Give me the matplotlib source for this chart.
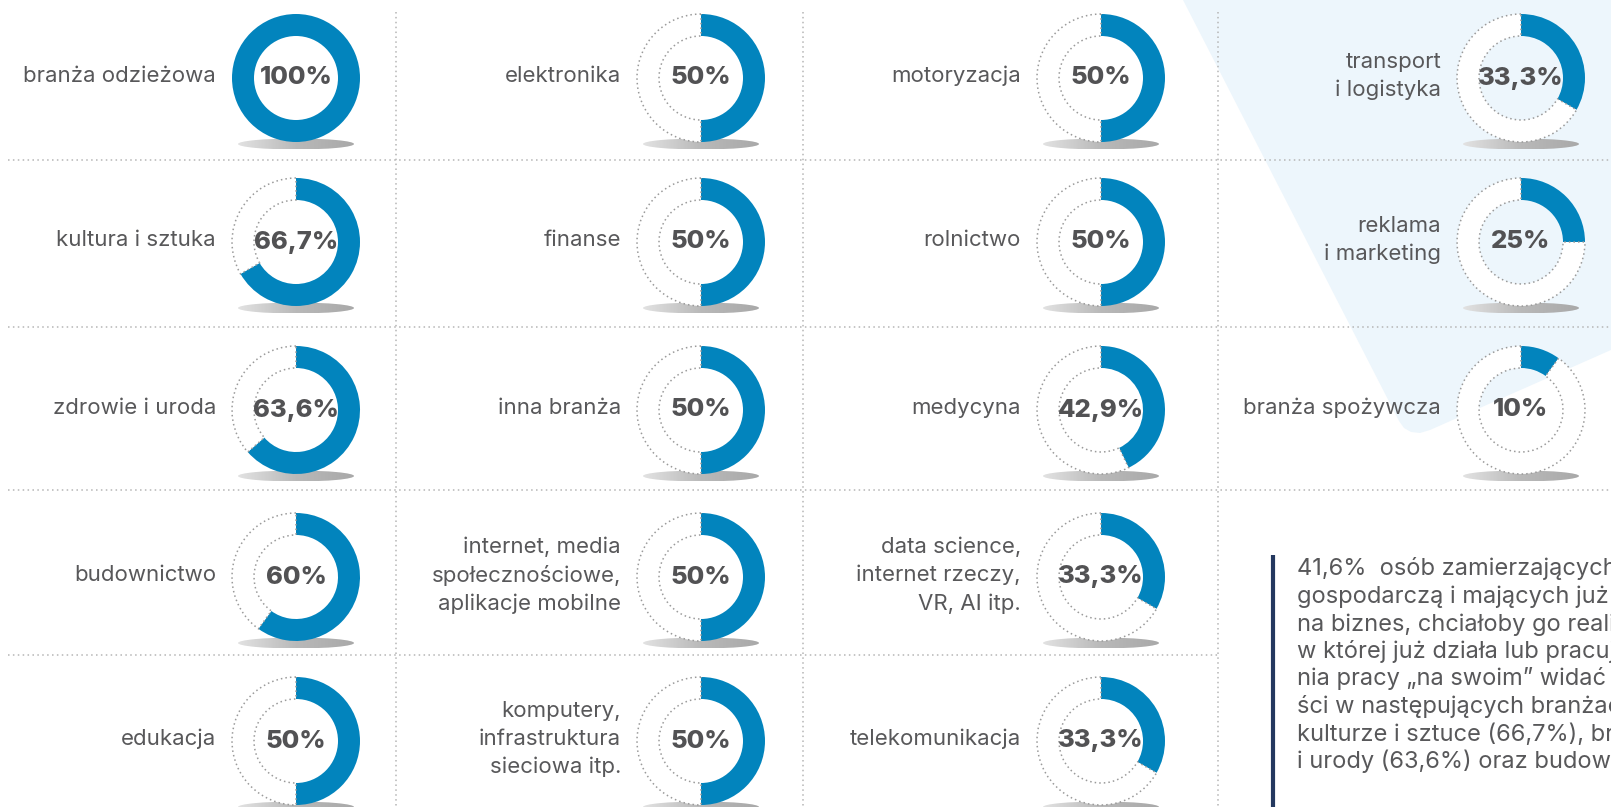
import numpy as np
import matplotlib
matplotlib.use("Agg")
import matplotlib.pyplot as plt
from matplotlib.patches import Ellipse, Polygon

# ---------------- data ----------------
col1_labels = ["branża odzieżowa", "kultura i sztuka", "zdrowie i uroda", "budownictwo", "edukacja"]
col1_values = [100, 66.7, 63.6, 60, 50]
col2_labels = ["elektronika", "finanse", "inna branża",
               "internet, media\nspołecznościowe,\naplikacje mobilne",
               "komputery,\ninfrastruktura\nsieciowa itp."]
col2_values = [50, 50, 50, 50, 50]
col3_labels = ["motoryzacja", "rolnictwo", "medycyna",
               "data science,\ninternet rzeczy,\nVR, AI itp.", "telekomunikacja"]
col3_values = [50, 50, 42.9, 33.3, 33.3]
col4_labels = ["transport\ni logistyka", "reklama\ni marketing", "branża spożywcza"]
col4_values = [33.3, 25, 10]

note_lines = [
    "41,6%  osób zamierzających",
    "gospodarczą i mających już",
    "na biznes, chciałoby go realizować",
    "w której już działa lub pracuje.",
    "nia pracy „na swoim” widać",
    "ści w następujących branżach:",
    "kulturze i sztuce (66,7%), branży",
    "i urody (63,6%) oraz budownictwie",
]

# ---------------- style / layout ----------------
W, H = 1611, 807
BLUE = "#0284bd"
TXT = "#58585a"
PCT = "#525254"
DOT = "#9a9a9a"
LIGHT = "#edf6fc"

col_x = [296, 701, 1101, 1521]
row_y = [78, 242, 410, 577, 741]
R_OUT, R_W = 64, 22

plt.rcParams['font.family'] = ['Inter', 'DejaVu Sans']

fig = plt.figure(figsize=(W / 100, H / 100), dpi=100)
ax = fig.add_axes([0, 0, 1, 1])
ax.set_xlim(0, W)
ax.set_ylim(0, H)
ax.set_aspect('equal')
ax.axis('off')

def Y(y):
    return H - y

# light blue background shape
bg_pts = [(1183, 0), (1611, 0), (1611, 350), (1430, 430), (1420, 433), (1411, 432),
          (1404, 428), (1399, 421)]
ax.add_patch(Polygon([(x, Y(y)) for x, y in bg_pts], closed=True, color=LIGHT, lw=0, zorder=0))

# grid dotted lines
dot_style = dict(color="#b5b5b5", lw=1.1, linestyle=(0, (1, 2.2)), zorder=1)
for y in [160, 327, 490]:
    ax.plot([8, W], [Y(y), Y(y)], **dot_style)
ax.plot([8, 1218], [Y(655), Y(655)], **dot_style)
for x in [396, 803, 1218]:
    ax.plot([x, x], [Y(12), Y(H)], **dot_style)

# gradient for shadows
grad = np.linspace(0, 1, 256).reshape(1, -1)
shadow_cmap = matplotlib.colors.LinearSegmentedColormap.from_list(
    "sh", ["#e2e2e2", "#b9b9b9", "#a9a9a9"])

def donut(cx, cy, value, label):
    v = value / 100.0
    # shadow
    sx, sy, sw, sh = cx, cy + 66, 116, 11
    ell = Ellipse((sx, Y(sy)), sw, sh, facecolor='none', edgecolor='none')
    ax.add_patch(ell)
    im = ax.imshow(grad, cmap=shadow_cmap, extent=(sx - sw / 2, sx + sw / 2, Y(sy) - sh / 2, Y(sy) + sh / 2),
                   aspect='auto', zorder=2, interpolation='bilinear')
    im.set_clip_path(ell)
    # donut
    wedges, _ = ax.pie([v, 1 - v], center=(cx, Y(cy)), radius=R_OUT, startangle=90,
                       counterclock=False, colors=[BLUE, "white"],
                       wedgeprops=dict(width=R_W, linewidth=0), frame=True)
    for w in wedges:
        w.set_zorder(3)
    if v < 1:
        wedges[1].set_edgecolor(DOT)
        wedges[1].set_linewidth(1.1)
        wedges[1].set_linestyle((0, (1, 2)))
    pct = f"{value:g}".replace('.', ',') + "%"
    ax.text(cx, Y(cy), pct, ha='center', va='center', fontsize=18.4, fontweight='heavy',
            color=PCT, zorder=5)
    ax.text(cx - 80, Y(cy - 2), label, ha='right', va='center', multialignment='right',
            fontsize=16, color=TXT, linespacing=1.47, zorder=5)

for cx, labels, values in [(col_x[0], col1_labels, col1_values),
                           (col_x[1], col2_labels, col2_values),
                           (col_x[2], col3_labels, col3_values),
                           (col_x[3], col4_labels, col4_values)]:
    for i, (lab, val) in enumerate(zip(labels, values)):
        donut(cx, row_y[i], val, lab)

# side note
ax.plot([1273, 1273], [Y(555), Y(H)], color="#24385f", lw=3, solid_capstyle='butt', zorder=4)
for i, line in enumerate(note_lines):
    ax.text(1297, Y(569 + i * 27.5), line, ha='left', va='center', fontsize=17,
            color=TXT, zorder=5)

ax.set_xlim(0, W)
ax.set_ylim(0, H)
fig.savefig("out.png", dpi=100, facecolor="white")
